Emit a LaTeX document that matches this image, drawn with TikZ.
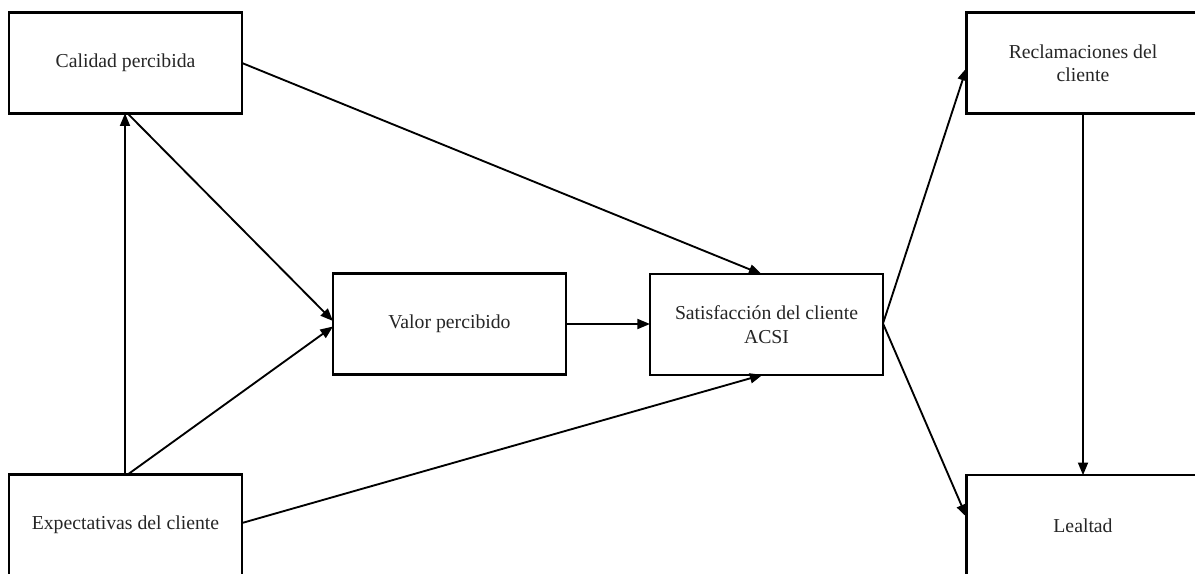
\documentclass[tikz,border=0pt]{standalone}
\usepackage{fontspec}
\setmainfont{Liberation Serif}
\usetikzlibrary{arrows.meta,calc}
\begin{document}
\begin{tikzpicture}[x=0.75pt,y=-0.75pt,
  box/.style={draw, line width=1.8pt, rectangle, minimum width=174.75pt,
    minimum height=75.5pt, inner sep=0pt, outer sep=0pt, align=center,
    text=black!85, font=\fontsize{14.8}{17.5}\selectfont},
  arr/.style={line width=1.4pt, -{Triangle[length=9.5pt,width=7.5pt]}}]
\clip (0,0) rectangle (1195,574);
\fill[white] (0,0) rectangle (1195,574);
\node[box] (cal) at (125.5,63) {Calidad percibida};
\node[box] (exp) at (125.5,525) {Expectativas del cliente};
\node[box] (val) at (449.5,324) {Valor percibido};
\node[box] (sat) at (766.5,324.5) {Satisfacción del cliente\\ACSI};
\node[box] (rec) at (1083,63) {Reclamaciones del\\cliente};
\node[box] (lea) at (1083,525.5) {Lealtad};
\draw[arr] ($(exp.north)+(-0.5,0)$) -- ($(cal.south)+(-0.5,0)$);
\draw[arr] ($(cal.south)+(2,0)$) -- ($(val.west)+(0,-3)$);
\draw[arr] ($(exp.north)+(2,0)$) -- ($(val.west)+(0,2.5)$);
\draw[arr] (cal.east) -- ($(sat.north)+(-5,0)$);
\draw[arr] ($(exp.east)+(0,-2)$) -- ($(sat.south)+(-4,0)$);
\draw[arr] (val.east) -- ($(sat.west)+(0,-0.5)$);
\draw[arr] ($(sat.east)+(0,-1)$) -- ($(rec.west)+(0,5)$);
\draw[arr] ($(sat.east)+(0,-1)$) -- ($(lea.west)+(0,-8.5)$);
\draw[arr] (rec.south) -- (lea.north);
\end{tikzpicture}
\end{document}
